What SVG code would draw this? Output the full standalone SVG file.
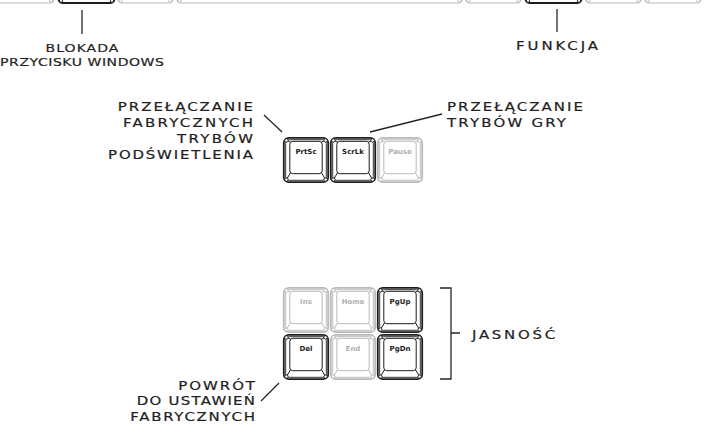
<svg xmlns="http://www.w3.org/2000/svg" xmlns:xlink="http://www.w3.org/1999/xlink" width="705" height="440" viewBox="0 0 705 440">
<style>
.lbl{font-family:"DejaVu Sans","Liberation Sans",sans-serif;font-size:11.5px;fill:#1e1e1e;stroke:#1e1e1e;stroke-width:0.2}
.sm{font-size:10.8px}
.kt{font-family:"DejaVu Sans","Liberation Sans",sans-serif;font-size:7px;font-weight:bold;text-anchor:middle}
.on{color:#1c1c1c}
.on text{fill:#222}
.off{color:#b9b9b9}
.off text{fill:#b0b0b0}
.conn{stroke:#262626;stroke-width:1.3;fill:none}
.tk{fill:none;stroke:currentColor}
</style>
<defs>
<g id="key" fill="none" stroke="currentColor">
<rect x="0.8" y="0.8" width="44.4" height="44.4" rx="5" stroke-width="1.8"/>
<rect x="2.7" y="2.7" width="40.6" height="40.6" rx="3.5" stroke-width="0.9"/>
<rect x="6.8" y="4.3" width="32.4" height="32.4" rx="3" stroke-width="1"/>
<path d="M7.4 5 L3.4 3.4 M38.6 5 L42.6 3.4 M7.4 36 L3.4 42.6 M38.6 36 L42.6 42.6" stroke-width="1"/>
<circle cx="3.4" cy="3.4" r="1.7" fill="#fff" stroke-width="0.9"/>
<circle cx="42.6" cy="3.4" r="1.7" fill="#fff" stroke-width="0.9"/>
<circle cx="3.4" cy="42.6" r="1.7" fill="#fff" stroke-width="0.9"/>
<circle cx="42.6" cy="42.6" r="1.7" fill="#fff" stroke-width="0.9"/>
</g>
</defs>
<rect width="705" height="440" fill="#fff"/>

<g id="top-row">
<g class="off"><rect class="tk" x="-3" y="-40" width="57" height="43" rx="4" stroke-width="1.2"/><circle cx="51" cy="0.8" r="1.6" fill="#fff" stroke="currentColor"/></g>
<g id="key-win" class="on"><rect class="tk" x="58.5" y="-40" width="56" height="43" rx="4" stroke-width="1.8"/><circle cx="61" cy="0.8" r="1.6" fill="#fff" stroke="currentColor"/><circle cx="112" cy="0.8" r="1.6" fill="#fff" stroke="currentColor"/></g>
<g class="off"><rect class="tk" x="118" y="-40" width="55" height="43" rx="4" stroke-width="1.2"/><circle cx="120.5" cy="0.8" r="1.6" fill="#fff" stroke="currentColor"/><circle cx="170.5" cy="0.8" r="1.6" fill="#fff" stroke="currentColor"/></g>
<g class="off"><rect class="tk" x="177" y="-40" width="285" height="43" rx="4" stroke-width="1.2"/><circle cx="179.5" cy="0.8" r="1.6" fill="#fff" stroke="currentColor"/><circle cx="459.5" cy="0.8" r="1.6" fill="#fff" stroke="currentColor"/></g>
<g class="off"><rect class="tk" x="466" y="-40" width="55" height="43" rx="4" stroke-width="1.2"/><circle cx="468.5" cy="0.8" r="1.6" fill="#fff" stroke="currentColor"/><circle cx="518.5" cy="0.8" r="1.6" fill="#fff" stroke="currentColor"/></g>
<g id="key-fn" class="on"><rect class="tk" x="525.5" y="-40" width="56" height="43" rx="4" stroke-width="1.8"/><circle cx="528" cy="0.8" r="1.6" fill="#fff" stroke="currentColor"/><circle cx="579" cy="0.8" r="1.6" fill="#fff" stroke="currentColor"/></g>
<g class="off"><rect class="tk" x="586" y="-40" width="55" height="43" rx="4" stroke-width="1.2"/><circle cx="588.5" cy="0.8" r="1.6" fill="#fff" stroke="currentColor"/><circle cx="638.5" cy="0.8" r="1.6" fill="#fff" stroke="currentColor"/></g>
<g class="off"><rect class="tk" x="645" y="-40" width="56" height="43" rx="4" stroke-width="1.2"/><circle cx="647.5" cy="0.8" r="1.6" fill="#fff" stroke="currentColor"/><circle cx="698.5" cy="0.8" r="1.6" fill="#fff" stroke="currentColor"/></g>
</g>

<g id="key-prtsc" class="on" transform="translate(283,137)"><use xlink:href="#key"/><text class="kt" x="23" y="17">PrtSc</text></g>
<g id="key-scrlk" class="on" transform="translate(330,137)"><use xlink:href="#key"/><text class="kt" x="23" y="17">ScrLk</text></g>
<g id="key-pause" class="off" transform="translate(377,137)"><use xlink:href="#key"/><text class="kt" x="23" y="17">Pause</text></g>

<g id="key-ins" class="off" transform="translate(283,287)"><use xlink:href="#key"/><text class="kt" x="23" y="17">Ins</text></g>
<g id="key-home" class="off" transform="translate(330,287)"><use xlink:href="#key"/><text class="kt" x="23" y="17">Home</text></g>
<g id="key-pgup" class="on" transform="translate(377,287)"><use xlink:href="#key"/><text class="kt" x="23" y="17">PgUp</text></g>
<g id="key-del" class="on" transform="translate(283,334)"><use xlink:href="#key"/><text class="kt" x="23" y="17">Del</text></g>
<g id="key-end" class="off" transform="translate(330,334)"><use xlink:href="#key"/><text class="kt" x="23" y="17">End</text></g>
<g id="key-pgdn" class="on" transform="translate(377,334)"><use xlink:href="#key"/><text class="kt" x="23" y="17">PgDn</text></g>

<g id="connectors">
<path class="conn" d="M82 10 V34"/>
<path class="conn" d="M557 9 V32"/>
<path class="conn" d="M264 115 L282 132"/>
<path class="conn" d="M370 132 L442 114"/>
<path class="conn" d="M440 288 H451 V379 H440 M451 333 H460"/>
<path class="conn" d="M261 401 L279 383"/>
</g>

<g id="label-win">
<text class="lbl sm" transform="translate(82,52) scale(1.3,1)" text-anchor="middle" textLength="56" lengthAdjust="spacing">BLOKADA</text>
<text class="lbl sm" transform="translate(82,66) scale(1.3,1)" text-anchor="middle" textLength="126" lengthAdjust="spacing">PRZYCISKU WINDOWS</text>
</g>
<g id="label-fn">
<text class="lbl" transform="translate(557,50) scale(1.3,1)" text-anchor="middle" textLength="63" lengthAdjust="spacing">FUNKCJA</text>
</g>
<g id="label-backlight">
<text class="lbl" transform="translate(253,111) scale(1.3,1)" text-anchor="end" textLength="104" lengthAdjust="spacing">PRZEŁĄCZANIE</text>
<text class="lbl" transform="translate(253,127) scale(1.3,1)" text-anchor="end" textLength="100" lengthAdjust="spacing">FABRYCZNYCH</text>
<text class="lbl" transform="translate(253,143) scale(1.3,1)" text-anchor="end" textLength="58.5" lengthAdjust="spacing">TRYBÓW</text>
<text class="lbl" transform="translate(253,159) scale(1.3,1)" text-anchor="end" textLength="111.5" lengthAdjust="spacing">PODŚWIETLENIA</text>
</g>
<g id="label-game">
<text class="lbl" transform="translate(447,111) scale(1.3,1)" textLength="104.5" lengthAdjust="spacing">PRZEŁĄCZANIE</text>
<text class="lbl" transform="translate(447,127) scale(1.3,1)" textLength="91.5" lengthAdjust="spacing">TRYBÓW GRY</text>
</g>
<g id="label-brightness">
<text class="lbl" transform="translate(472,339) scale(1.3,1)" textLength="64" lengthAdjust="spacing">JASNOŚĆ</text>
</g>
<g id="label-reset">
<text class="lbl" transform="translate(255,390) scale(1.3,1)" text-anchor="end" textLength="59" lengthAdjust="spacing">POWRÓT</text>
<text class="lbl" transform="translate(255,405) scale(1.3,1)" text-anchor="end" textLength="91" lengthAdjust="spacing">DO USTAWIEŃ</text>
<text class="lbl" transform="translate(255,421) scale(1.3,1)" text-anchor="end" textLength="96" lengthAdjust="spacing">FABRYCZNYCH</text>
</g>
</svg>
